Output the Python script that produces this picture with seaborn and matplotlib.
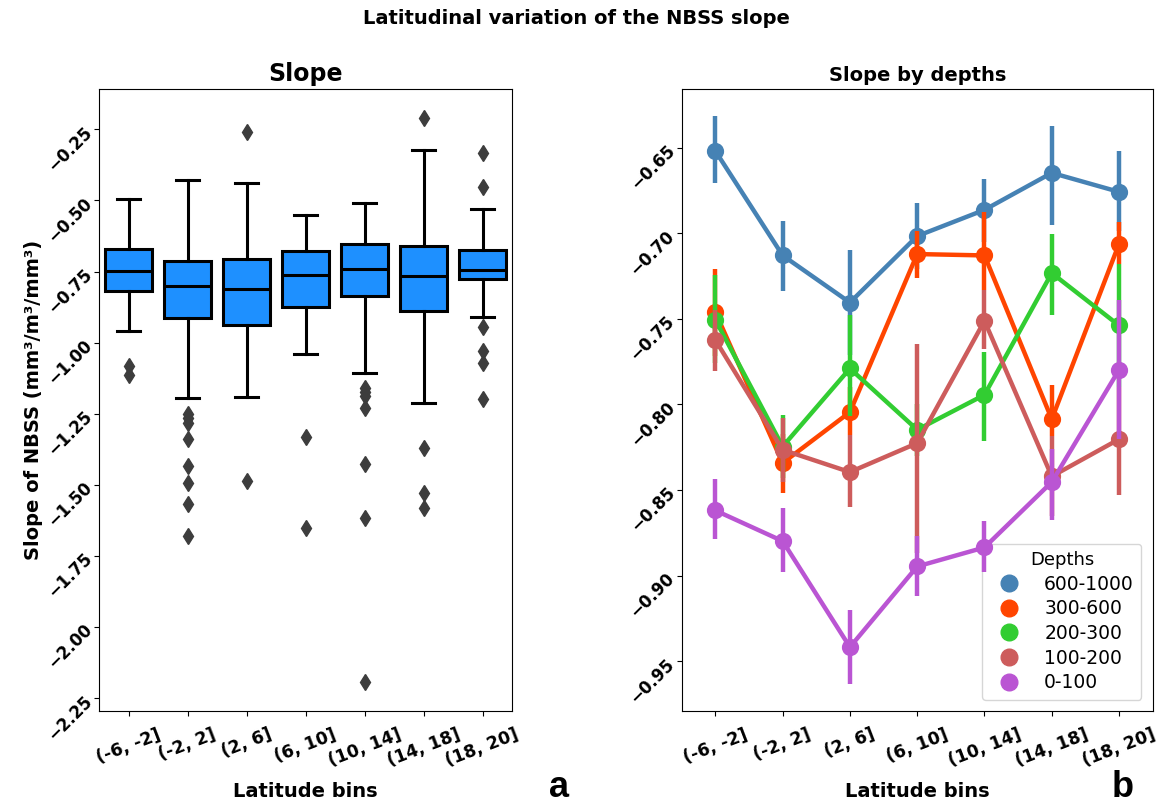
import numpy as np
import pandas as pd
import matplotlib
matplotlib.use("Agg")
import matplotlib.pyplot as plt
import seaborn as sns
from matplotlib.lines import Line2D

# ---------------- data ----------------
bins = ["(-6, -2]", "(-2, 2]", "(2, 6]", "(6, 10]", "(10, 14]", "(14, 18]", "(18, 20]"]

# panel a: box statistics per latitude bin
box_whislo = [-0.959, -1.196, -1.192, -1.041, -1.106, -1.211, -0.911]
box_q1 = [-0.819, -0.913, -0.938, -0.874, -0.837, -0.890, -0.777]
box_med = [-0.749, -0.800, -0.812, -0.763, -0.742, -0.766, -0.746]
box_q3 = [-0.671, -0.712, -0.706, -0.679, -0.653, -0.659, -0.673]
box_whishi = [-0.496, -0.428, -0.438, -0.552, -0.510, -0.324, -0.531]
box_fliers = [
    [-1.082, -1.114],
    [-1.250, -1.266, -1.284, -1.340, -1.434, -1.493, -1.568, -1.679],
    [-0.258, -1.488],
    [-1.333, -1.653],
    [-1.161, -1.173, -1.188, -1.231, -1.427, -1.618, -2.192],
    [-0.209, -1.369, -1.530, -1.581],
    [-0.333, -0.454, -0.944, -1.028, -1.073, -1.199],
]

# panel b: mean slope per depth layer and its confidence interval
depths = ["600-1000", "300-600", "200-300", "100-200", "0-100"]
depth_colors = ["#4682B4", "#FF4500", "#32CD32", "#CD5C5C", "#BA55D3"]

mean_600_1000 = [-0.652, -0.713, -0.7405, -0.7017, -0.6864, -0.6648, -0.6759]
mean_300_600 = [-0.7461, -0.8342, -0.8045, -0.7122, -0.713, -0.8086, -0.7062]
mean_200_300 = [-0.7506, -0.8246, -0.779, -0.8148, -0.7944, -0.7233, -0.7539]
mean_100_200 = [-0.7624, -0.8265, -0.8395, -0.8226, -0.7512, -0.842, -0.8203]
mean_0_100 = [-0.8619, -0.8798, -0.9417, -0.8946, -0.8835, -0.8453, -0.7798]

lo_600_1000 = [-0.671, -0.7338, -0.771, -0.721, -0.705, -0.6955, -0.699]
hi_600_1000 = [-0.6313, -0.6928, -0.710, -0.6825, -0.6683, -0.6372, -0.6521]
lo_300_600 = [-0.772, -0.8517, -0.8177, -0.7259, -0.733, -0.8187, -0.718]
hi_300_600 = [-0.721, -0.817, -0.790, -0.699, -0.6874, -0.7889, -0.6932]
lo_200_300 = [-0.776, -0.843, -0.8065, -0.830, -0.8212, -0.7477, -0.790]
hi_200_300 = [-0.7243, -0.806, -0.748, -0.800, -0.7694, -0.7006, -0.718]
lo_100_200 = [-0.7804, -0.845, -0.860, -0.8868, -0.7677, -0.865, -0.8527]
hi_100_200 = [-0.7447, -0.808, -0.8177, -0.7648, -0.733, -0.8187, -0.790]
lo_0_100 = [-0.8784, -0.8981, -0.9633, -0.9117, -0.8981, -0.8673, -0.820]
hi_0_100 = [-0.8434, -0.8605, -0.9199, -0.8771, -0.8683, -0.826, -0.7389]

means = [mean_600_1000, mean_300_600, mean_200_300, mean_100_200, mean_0_100]
lows = [lo_600_1000, lo_300_600, lo_200_300, lo_100_200, lo_0_100]
highs = [hi_600_1000, hi_300_600, hi_200_300, hi_100_200, hi_0_100]

# ---------------- figure ----------------
fig = plt.figure(figsize=(11.65, 8.07), dpi=100)
W, H = 1165.0, 807.0
ax1 = fig.add_axes([99 / W, 1 - 711 / H, (512 - 99) / W, (711 - 89) / H])
ax2 = fig.add_axes([681.7 / W, 1 - 711 / H, (1152.7 - 681.7) / W, (711 - 89.3) / H])

# ---- panel a: boxplot ----
stats = []
for i, b in enumerate(bins):
    stats.append(dict(label=b, whislo=box_whislo[i], q1=box_q1[i], med=box_med[i],
                      q3=box_q3[i], whishi=box_whishi[i], fliers=box_fliers[i]))
lw = 2.2
ax1.bxp(stats, positions=np.arange(len(bins)), widths=0.8, patch_artist=True,
        boxprops=dict(facecolor="#1E90FF", edgecolor="black", linewidth=lw),
        medianprops=dict(color="black", linewidth=lw),
        whiskerprops=dict(color="black", linewidth=lw),
        capprops=dict(color="black", linewidth=lw),
        flierprops=dict(marker="d", markerfacecolor="#3d3d3d", markeredgecolor="#3d3d3d",
                        markersize=8))
ax1.set_xlim(-0.5, len(bins) - 0.5)
ax1.set_ylim(-2.295, -0.108)
ax1.set_yticks([-2.25, -2.0, -1.75, -1.5, -1.25, -1.0, -0.75, -0.5, -0.25])
ax1.set_xticks(np.arange(len(bins)))
ax1.set_xticklabels(bins)
ax1.set_title("Slope", fontsize=17, fontweight="bold")
ax1.set_xlabel("Latitude bins", fontsize=14, fontweight="bold", labelpad=9)
ax1.set_ylabel("Slope of NBSS (mm³/m³/mm³)", fontsize=14, fontweight="bold", labelpad=1)

# ---- panel b: pointplot ----
rows = []
for d, m in zip(depths, means):
    for b, v in zip(bins, m):
        rows.append({"Latitude bins": b, "Depths": d, "slope": v})
df = pd.DataFrame(rows)
pal = dict(zip(depths, depth_colors))
sns.pointplot(data=df, x="Latitude bins", y="slope", hue="Depths", order=bins,
              hue_order=depths, palette=pal, errorbar=None, markers="o",
              markersize=10, linewidth=3.2, legend=False, ax=ax2)
for j, line in enumerate(ax2.lines[:len(depths)]):
    line.set_zorder(3 + j)
xpos = np.arange(len(bins))
for j, (lo, hi, c) in enumerate(zip(lows, highs, depth_colors)):
    ax2.vlines(xpos, lo, hi, color=c, linewidth=3.2, zorder=2.5 + j)
ax2.set_xlim(-0.5, len(bins) - 0.5)
ax2.set_ylim(-0.979, -0.616)
ax2.set_yticks([-0.95, -0.9, -0.85, -0.8, -0.75, -0.7, -0.65])
ax2.set_title("Slope by depths", fontsize=14, fontweight="bold")
ax2.set_xlabel("Latitude bins", fontsize=14, fontweight="bold", labelpad=9)
ax2.set_ylabel("")
handles = [Line2D([], [], marker="o", linestyle="", color=c, markersize=12) for c in depth_colors]
leg = ax2.legend(handles, depths, title="Depths", loc="lower right", fontsize=13.5,
                 title_fontsize=13, labelspacing=0.3, handletextpad=0.9,
                 borderaxespad=0.6)

for ax in (ax1, ax2):
    ax.tick_params(axis="x", pad=7)
    for t in ax.get_xticklabels():
        t.set_rotation(21)
        t.set_fontweight("bold")
        t.set_fontsize(12.5)
    for t in ax.get_yticklabels():
        t.set_rotation(45)
        t.set_rotation_mode("anchor")
        t.set_ha("right")
        t.set_va("center")
        t.set_fontweight("bold")
        t.set_fontsize(12)

fig.suptitle("Latitudinal variation of the NBSS slope", fontsize=14, fontweight="bold",
             x=576.5 / W, y=1 - 9 / H, va="top")
fig.text(559 / W, 1 - 797 / H, "a", fontsize=26, fontweight="bold",
         family=["Liberation Sans", "DejaVu Sans"], ha="center", va="baseline")
fig.text(1123 / W, 1 - 797 / H, "b", fontsize=26, fontweight="bold",
         family=["Liberation Sans", "DejaVu Sans"], ha="center", va="baseline")

fig.savefig("out.png", dpi=100)
